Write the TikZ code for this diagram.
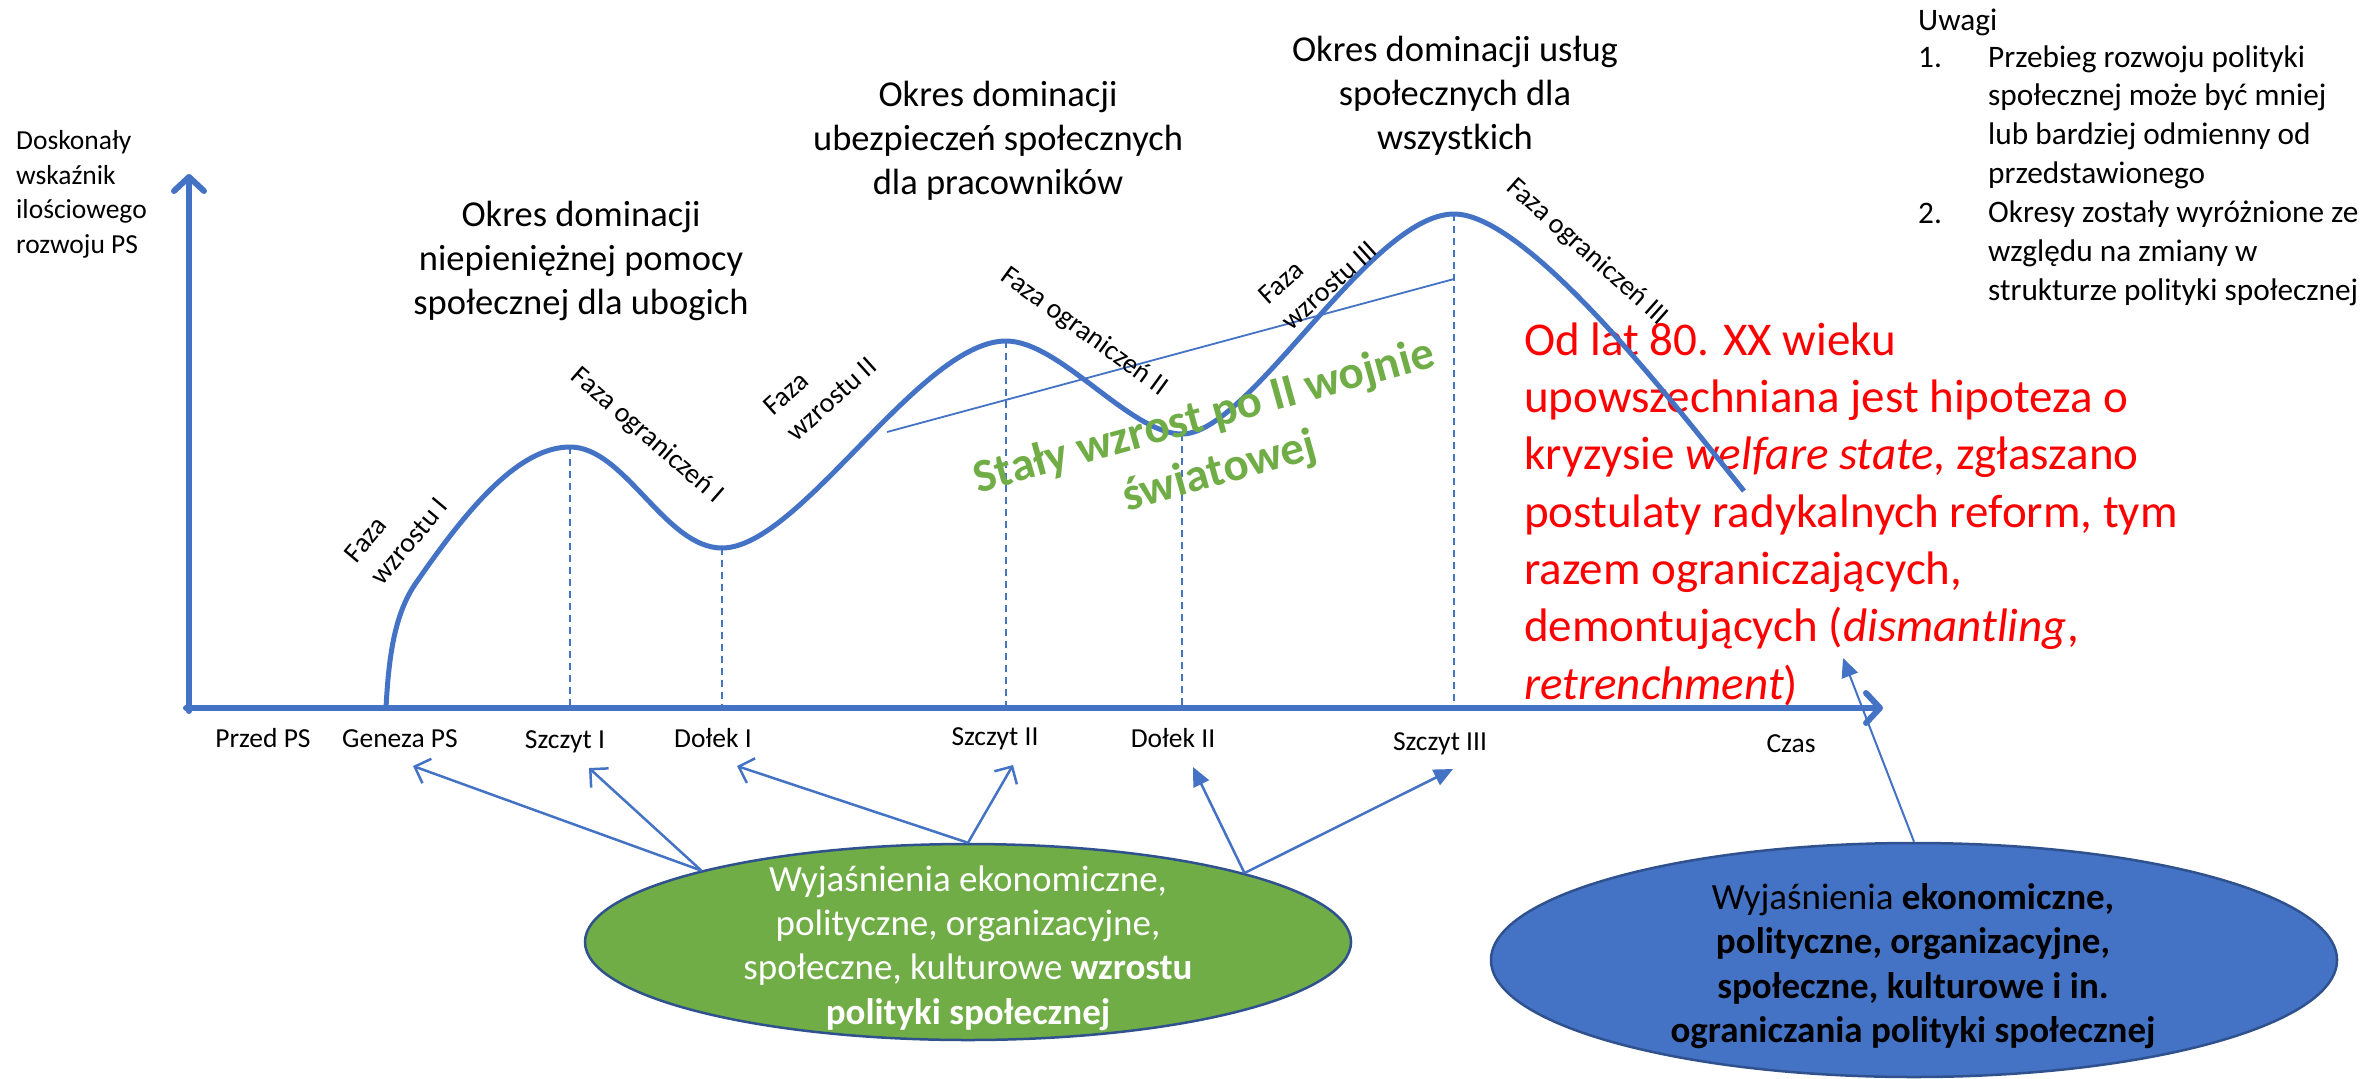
\documentclass[tikz,border=0pt]{standalone}
\usepackage{fontspec}
\setmainfont{Carlito}
\usetikzlibrary{arrows.meta,shapes.geometric,calc}
\definecolor{obl}{HTML}{4472C4}
\definecolor{ogr}{HTML}{70AD47}
\definecolor{odk}{HTML}{2F528F}
\definecolor{ored}{HTML}{FF0000}
\newcommand\fsLbl{\fontsize{27.5bp}{34.5bp}\selectfont}
\newcommand\fsRot{\fontsize{28bp}{34.5bp}\selectfont}
\newcommand\fsNote{\fontsize{31.3bp}{38.6bp}\selectfont}
\newcommand\fsTitle{\fontsize{36.5bp}{44bp}\selectfont}
\newcommand\fsEll{\fontsize{37bp}{44.3bp}\selectfont}
\newcommand\fsBig{\fontsize{47bp}{57.3bp}\selectfont}
\begin{document}
\begin{tikzpicture}[x=1bp,y=-1bp,
  axis/.style={obl, line width=6bp, line cap=round, -{Straight Barb[length=14bp,width=30bp,line cap=round,line join=round]}},
  curve/.style={obl, line width=5bp},
  guide/.style={obl, line width=1.5bp, dash pattern=on 7bp off 5bp},
  trend/.style={obl, line width=1.8bp},
  lbl/.style={font=\fsLbl, inner sep=0pt, anchor=base},
  phase/.style={font=\fsRot, inner sep=0pt, align=left, anchor=center},
  title/.style={font=\fsTitle, inner sep=0pt, align=center, anchor=base},
  note/.style={font=\fsNote, inner sep=0pt, align=left, anchor=base west},
  openarr/.style={obl, line width=2.5bp, -{Straight Barb[length=13bp,width=26bp]}},
  fillarr/.style={obl, line width=2.5bp, -{Triangle[length=19bp,width=17bp]}},
  ell/.style={ellipse, draw=odk, line width=2.5bp, inner sep=0pt},
]
\fill[white] (0,0) rectangle (2372,1078);
\useasboundingbox (0,0) rectangle (2372,1078);

% axes
\coordinate (O) at (189,708);
\draw[axis] (189,711) -- (189,174);
\draw[axis] (186,708) -- (1883,708);

% multi-line nodes: base anchor = baseline of the last line
\node[note, font=\fsLbl] (ylab) at (16,253) {Doskonały\\wskaźnik\\ilościowego\\rozwoju PS};

% titles
\node[title] (t1) at (581,314) {Okres dominacji\\niepieniężnej pomocy\\społecznej dla ubogich};
\node[title] (t2) at (998,194) {Okres dominacji\\ubezpieczeń społecznych\\dla pracowników};
\node[title] (t3) at (1455,149) {Okres dominacji usług\\społecznych dla\\wszystkich};

% notes
\node[note] (uwagi) at (1918,30) {Uwagi};
\node[note] (n1) at (1918,67) {1.};
\node[note] (n1t) at (1988,183) {Przebieg rozwoju polityki\\społecznej może być mniej\\lub bardziej odmienny od\\przedstawionego};
\node[note] (n2) at (1918,223) {2.};
\node[note] (n2t) at (1988,300) {Okresy zostały wyróżnione ze\\względu na zmiany w\\strukturze polityki społecznej};

% red text
\node[font=\fsBig, text=ored, inner sep=0pt, align=left, anchor=base west] (crisis) at (1524,699)
  {Od lat 80. XX wieku\\upowszechniana jest hipoteza o\\kryzysie \textit{welfare state}, zgłaszano\\postulaty radykalnych reform, tym\\razem ograniczających,\\demontujących (\textit{dismantling},\\\textit{retrenchment})};

% curve points
\coordinate (g0) at (386,708);
\coordinate (p1) at (570,447);
\coordinate (d1p) at (722,548);
\coordinate (p2) at (1006,341);
\coordinate (d2p) at (1182,434);
\coordinate (p3) at (1454,214);
\coordinate (e3) at (1744,491);

\draw[guide] (p1) -- (p1 |- O);
\draw[guide] (d1p) -- (d1p |- O);
\draw[guide] (p2) -- (p2 |- O);
\draw[guide] (d2p) -- (d2p |- O);
\draw[guide] (p3) -- (p3 |- O);

\coordinate (tr1) at (887,432);
\coordinate (tr2) at (1454,279);
\draw[trend] (tr1) -- (tr2);

\draw[curve] (g0) .. controls (389,650) and (396,610) .. (418,580)
  .. controls (470,505) and (520,447) .. (p1)
  .. controls (625,447) and (665,548) .. (d1p)
  .. controls (800,548) and (920,341) .. (p2)
  .. controls (1060,341) and (1130,434) .. (d2p)
  .. controls (1250,434) and (1370,214) .. (p3)
  .. controls (1530,214) and (1684,417) .. (e3);

% phase labels
\node[phase, rotate=50] (fw1) at (396,530) {Faza\\wzrostu I};
\node[phase, rotate=-41] (fo1) at (647,436) {Faza ograniczeń I};
\node[phase, rotate=42] (fw2) at (820,386) {Faza\\wzrostu II};
\node[phase, rotate=-36] (fo2) at (1084,332) {Faza ograniczeń II};
\node[phase, rotate=42] (fw3) at (1318,273) {Faza\\wzrostu III};
\node[phase, rotate=-41.6] (fo3) at (1587,252) {Faza ograniczeń III};

% green rotated text
\node[font=\fsBig\bfseries, text=ogr, inner sep=0pt, align=center, rotate=15.5] (staly) at (1212,445)
  {Stały wzrost po II wojnie\\światowej};

% axis labels
\node[lbl] (przed) at (263,747) {Przed PS};
\node[lbl] (geneza) at (400,747) {Geneza PS};
\node[lbl] (sz1) at (565,748) {Szczyt I};
\node[lbl] (dl1) at (713,747) {Dołek I};
\node[lbl] (sz2) at (995,745) {Szczyt II};
\node[lbl] (dl2) at (1173,747) {Dołek II};
\node[lbl] (sz3) at (1440,750) {Szczyt III};
\node[lbl] (czas) at (1791,752) {Czas};

% ellipses
\node[ell, fill=ogr, minimum width=766bp, minimum height=196bp] (gell) at (968,942) {};
\node[font=\fsEll, text=white, inner sep=0pt, align=center] (gtxt) at (968,948)
  {Wyjaśnienia ekonomiczne,\\polityczne, organizacyjne,\\społeczne, kulturowe \textbf{wzrostu}\\\textbf{polityki społecznej}};
\node[ell, fill=obl, minimum width=846bp, minimum height=234bp] (bell) at (1914,960) {};
\node[font=\fsEll, text=black, inner sep=0pt, align=center] (btxt) at (1913,966)
  {Wyjaśnienia \textbf{ekonomiczne,}\\\textbf{polityczne, organizacyjne,}\\\textbf{społeczne, kulturowe i in.}\\\textbf{ograniczania polityki społecznej}};

% arrows
\draw[openarr] (gell.165.7) -- ($(geneza.base)+(13,19)$);
\draw[openarr] (gell.165.7) -- ($(sz1.base)+(24,20)$);
\draw[openarr] (gell.north) -- ($(dl1.base)+(24,19)$);
\draw[openarr] (gell.north) -- ($(sz2.base)+(18,20)$);
\draw[fillarr] (gell.14.3) -- ($(dl2.base)+(20,20)$);
\draw[fillarr] (gell.14.3) -- ($(sz3.base)+(13,19)$);
\coordinate (crisistip) at (1843,658);
\draw[fillarr, line width=2bp] (bell.north) -- (crisistip);
\end{tikzpicture}
\end{document}
